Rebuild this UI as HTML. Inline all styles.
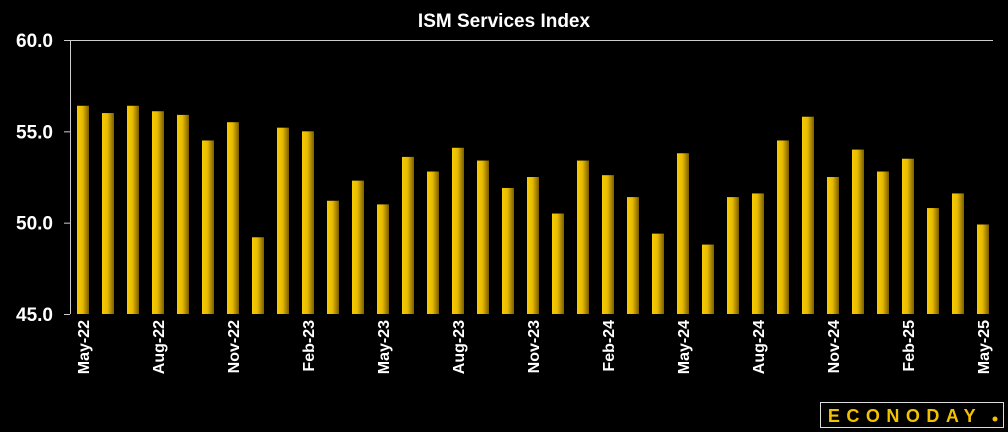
<!DOCTYPE html>
<html><head><meta charset="utf-8"><style>
html,body{margin:0;padding:0;background:#000;width:1008px;height:432px;overflow:hidden}
svg{display:block}
text{font-family:"Liberation Sans",sans-serif;font-weight:bold;fill:#fff}
</style></head><body>
<svg id="chart" width="1008" height="432" viewBox="0 0 1008 432">
<defs><linearGradient id="bg" x1="0" x2="1" y1="0" y2="0"><stop offset="0" stop-color="#f7cc00"/><stop offset="0.45" stop-color="#e8bb00"/><stop offset="1" stop-color="#7a5e00"/></linearGradient></defs>
<text x="504" y="27" text-anchor="middle" font-size="19">ISM Services Index</text>
<g id="axes"></g>
<g id="bars"></g>
<g>
<rect x="820.5" y="402.5" width="183" height="25" fill="#000" stroke="#ddd" stroke-width="1"/>
<text x="905" y="422" text-anchor="middle" font-size="18" letter-spacing="6.5" style="fill:#f2c200">ECONODAY</text>
<circle cx="995" cy="419" r="2.5" fill="#f2c200"/>
</g>
</svg>
<script>
const categories=["May-22","Jun-22","Jul-22","Aug-22","Sep-22","Oct-22","Nov-22","Dec-22","Jan-23","Feb-23","Mar-23","Apr-23","May-23","Jun-23","Jul-23","Aug-23","Sep-23","Oct-23","Nov-23","Dec-23","Jan-24","Feb-24","Mar-24","Apr-24","May-24","Jun-24","Jul-24","Aug-24","Sep-24","Oct-24","Nov-24","Dec-24","Jan-25","Feb-25","Mar-25","Apr-25","May-25"];
const values=[56.4,56.0,56.4,56.1,55.9,54.5,55.5,49.2,55.2,55.0,51.2,52.3,51.0,53.6,52.8,54.1,53.4,51.9,52.5,50.5,53.4,52.6,51.4,49.4,53.8,48.8,51.4,51.6,54.5,55.8,52.5,54.0,52.8,53.5,50.8,51.6,49.9];
const yTicks=[45,50,55,60];
const yTickLabels=["45.0","50.0","55.0","60.0"];
const ns="http://www.w3.org/2000/svg";
const X0=70,X1=995,Y0=314,Y1=40,yMin=45,yMax=60;
const slot=(X1-X0)/categories.length;
function y(v){return Y0-(v-yMin)/(yMax-yMin)*(Y0-Y1);}
function x(i){return X0+slot*(i+0.5);}
function mk(t,a,p){const e=document.createElementNS(ns,t);for(const k in a)e.setAttribute(k,a[k]);p.appendChild(e);return e;}
const ax=document.getElementById('axes'),bg=document.getElementById('bars');
const yl=mk('line',{x1:X0+.5,y1:Y1,x2:X0+.5,y2:Y0,stroke:'#ccc','stroke-width':1},ax);


const tl=mk('line',{x1:X0-6,y1:Y1+.5,x2:993,y2:Y1+.5,stroke:'#ccc','stroke-width':1},ax);


yTicks.forEach((t,i)=>{
  const l=mk('line',{x1:X0-6,x2:X0,y1:y(t)+.5,y2:y(t)+.5,stroke:'#ccc'},ax);
  
  
  const tx=mk('text',{x:X0-17,y:y(t)+7,'text-anchor':'end','font-size':19},ax);
  tx.textContent=yTickLabels[i];
  
  
});
values.forEach((v,i)=>{
  const r=mk('rect',{x:x(i)-5.5,y:y(v),width:12,height:Y0-y(v),fill:'url(#bg)'},bg);
  
  
  if(i%3===0){
    const tx=mk('text',{transform:`translate(${x(i)+6.5},${Y0+6}) rotate(-90)`,'text-anchor':'end','font-size':16},ax);
    tx.textContent=categories[i];
    
    
  }
});
</script>
</body></html>
